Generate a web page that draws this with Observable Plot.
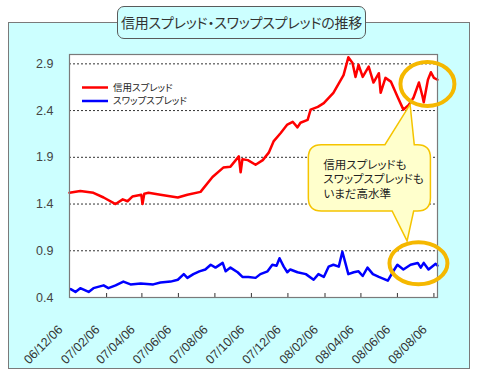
<!DOCTYPE html>
<html>
<head>
<meta charset="utf-8">
<script src="https://cdn.jsdelivr.net/npm/d3@7"></script>
<script src="https://cdn.jsdelivr.net/npm/@observablehq/plot@0.6"></script>
<style>
  html, body { margin: 0; padding: 0; background: #fff; }
  #wrap { position: relative; width: 478px; height: 382px; overflow: hidden;
    font-family: "Noto Sans CJK JP", "Liberation Sans", sans-serif; }
  #panel { position: absolute; left: 8px; top: 22px; width: 460px; height: 345px;
    background: #CCFFFF; border: 1.5px solid #7a7a7a; }
  #title { position: absolute; left: 117px; top: 6px; width: 247px; height: 31px;
    background: #CCFFFF; border: 1.5px solid #5a5a5a; border-radius: 7px;
    font-size: 14px; line-height: 31px; text-align: center; color: #333; white-space: nowrap;
    font-feature-settings: "palt"; letter-spacing: -0.2px; z-index: 3; }
  #chart { position: absolute; left: 0; top: 0; z-index: 2; }
</style>
</head>
<body>
<div id="wrap">
  <div id="panel"></div>
  <div id="title">信用スプレッド・スワップスプレッドの推移</div>
  <div id="chart"></div>
</div>
<script>
// ---- data (dates as yy/mm/dd) ----
const seriesNames = ["信用スプレッド", "スワップスプレッド"];

const creditDates = ["06/12/06","06/12/24","07/01/15","07/02/01","07/02/21","07/03/05","07/03/13","07/03/21","07/04/05","07/04/07","07/04/10","07/04/17","07/05/07","07/06/05","07/06/21","07/07/13","07/08/02","07/08/20","07/09/01","07/09/15","07/09/18","07/09/21","07/09/30","07/10/13","07/10/25","07/11/04","07/11/12","07/11/24","07/12/05","07/12/14","07/12/22","07/12/27","08/01/08","08/01/13","08/01/25","08/02/04","08/02/20","08/03/08","08/03/16","08/03/23","08/03/28","08/04/02","08/04/09","08/04/19","08/04/27","08/05/06","08/05/09","08/05/17","08/05/26","08/06/06","08/06/16","08/06/25","08/07/03","08/07/12","08/07/18","08/07/20","08/07/27","08/08/01","08/08/06","08/08/12"];
const creditValues = [1.52,1.54,1.52,1.47,1.40,1.45,1.43,1.48,1.50,1.40,1.51,1.52,1.50,1.47,1.50,1.53,1.69,1.79,1.80,1.91,1.74,1.88,1.87,1.82,1.87,1.95,2.07,2.16,2.25,2.28,2.22,2.27,2.30,2.41,2.44,2.48,2.59,2.78,2.97,2.91,2.76,2.89,2.76,2.87,2.70,2.80,2.59,2.75,2.71,2.55,2.41,2.46,2.54,2.70,2.55,2.49,2.73,2.81,2.75,2.73];

const swapDates = ["06/12/08","06/12/16","06/12/24","07/01/07","07/01/15","07/02/01","07/02/09","07/02/21","07/03/06","07/03/18","07/04/04","07/04/25","07/05/07","07/05/24","07/06/05","07/06/15","07/06/21","07/07/01","07/07/11","07/07/21","07/07/30","07/08/07","07/08/19","07/08/24","07/09/01","07/09/13","07/09/21","07/10/01","07/10/13","07/10/21","07/11/02","07/11/10","07/11/17","07/11/22","07/11/29","07/12/05","07/12/10","07/12/22","08/01/05","08/01/18","08/01/26","08/02/04","08/02/12","08/02/20","08/02/29","08/03/06","08/03/11","08/03/16","08/03/25","08/04/02","08/04/09","08/04/17","08/04/26","08/05/06","08/05/14","08/05/21","08/05/29","08/06/06","08/06/16","08/06/28","08/07/10","08/07/15","08/07/20","08/07/28","08/08/09","08/08/12"];
const swapValues = [0.49,0.46,0.50,0.46,0.50,0.53,0.50,0.53,0.57,0.54,0.55,0.54,0.56,0.57,0.59,0.65,0.61,0.65,0.68,0.70,0.75,0.72,0.77,0.68,0.72,0.67,0.62,0.62,0.61,0.65,0.68,0.75,0.74,0.82,0.73,0.67,0.70,0.67,0.65,0.59,0.65,0.62,0.73,0.75,0.73,0.89,0.77,0.65,0.67,0.68,0.63,0.72,0.65,0.62,0.60,0.58,0.67,0.75,0.70,0.75,0.77,0.72,0.77,0.70,0.76,0.74];

const xTickLabels = ["06/12/06","07/02/06","07/04/06","07/06/06","07/08/06","07/10/06","07/12/06","08/02/06","08/04/06","08/06/06","08/08/06"];
const yTicks = [0.4, 0.9, 1.4, 1.9, 2.4, 2.9];
const xDomain = ["06/12/06", "08/08/12"];
const yDomain = [0.4, 3.0];
const calloutLines = ["信用スプレッドも", "スワップスプレッドも", "いまだ高水準"];

// annotation anchors in data units
const creditCircle = {date: "08/07/27", value: 2.68};
const swapCircle = {date: "08/07/12", value: 0.76};
const calloutBox = {from: "08/01/10", to: "08/08/01", top: 2.03, bottom: 1.32};
const pointerUp = {date: "08/06/28", value: 2.46, baseFrom: "08/05/17", baseTo: "08/07/05"};
const pointerDown = {date: "08/06/23", value: 1.00, baseFrom: "08/05/29", baseTo: "08/07/04"};

// ---- build ----
const parse = d3.utcParse("%y/%m/%d");
const fmt = d3.utcFormat("%y/%m/%d");
const credit = creditDates.map((d, i) => ({date: parse(d), value: creditValues[i]}));
const swap = swapDates.map((d, i) => ({date: parse(d), value: swapValues[i]}));
const xTicks = xTickLabels.map(parse);

const plot = Plot.plot({
  width: 478, height: 382,
  marginLeft: 69, marginRight: 41, marginTop: 54, marginBottom: 85,
  style: {background: "transparent", fontFamily: "'Liberation Sans', Arial, sans-serif", fontSize: "12px", color: "#333"},
  x: {type: "utc", domain: xDomain.map(parse), label: null},
  y: {domain: yDomain, label: null},
  marks: [
    Plot.frame({fill: "white"}),
    Plot.gridY(yTicks.slice(1), {stroke: "#333", strokeOpacity: 1, strokeDasharray: "2,2", strokeWidth: 1}),
    Plot.axisY({ticks: yTicks, tickSize: 0, tickPadding: 16, tickFormat: d => d.toFixed(1), fill: "#444", fontSize: 12.5, label: null}),
    Plot.tickX(xTicks, {x: d => d, insetTop: 239, stroke: "#333"}),
    Plot.axisX({ticks: xTicks, tickFormat: fmt, tickRotate: -45, tickSize: 0, tickPadding: 30, dx: -9, fill: "#333", fontSize: 12.5, label: null}),
    Plot.line(credit, {x: "date", y: "value", stroke: "#ff0000", strokeWidth: 2.5}),
    Plot.line(swap, {x: "date", y: "value", stroke: "#0000ff", strokeWidth: 2.5}),
    Plot.frame({stroke: "#7a7a7a", strokeWidth: 1.2})
  ]
});
document.getElementById("chart").appendChild(plot);

// ---- annotations via scales ----
const xs = plot.scale("x"), ys = plot.scale("y");
const X = d => xs.apply(parse(d)), Y = v => ys.apply(v);
const svg = d3.select(plot);
const g = svg.append("g").attr("text-anchor", "start");

// legend (inside frame, top-left)
const [fx0] = xs.range, fy0 = ys.range[1];
const leg = g.append("g").attr("font-family", "'Noto Sans CJK JP', sans-serif").attr("font-size", 9.5)
  .style("font-feature-settings", "'palt'");
[["#ff0000", 0], ["#0000ff", 1]].forEach(([c, i]) => {
  const ly = fy0 + 33.5 + i * 13.5;
  leg.append("line").attr("x1", fx0 + 13).attr("x2", fx0 + 39).attr("y1", ly).attr("y2", ly)
    .attr("stroke", c).attr("stroke-width", 2.5);
  leg.append("text").attr("x", fx0 + 44).attr("y", ly).attr("dy", "0.35em").attr("text-anchor", "start")
    .attr("fill", "#222").text(seriesNames[i]);
});

// callout
const bx0 = X(calloutBox.from), bx1 = X(calloutBox.to), by0 = Y(calloutBox.top), by1 = Y(calloutBox.bottom);
const r = 13;
const up = {x: X(pointerUp.date), y: Y(pointerUp.value), a: X(pointerUp.baseFrom), b: X(pointerUp.baseTo)};
const dn = {x: X(pointerDown.date), y: Y(pointerDown.value), a: X(pointerDown.baseFrom), b: X(pointerDown.baseTo)};
const p = d3.path();
p.moveTo(bx0 + r, by0);
p.lineTo(up.a, by0); p.lineTo(up.x, up.y); p.lineTo(up.b, by0);
p.lineTo(bx1 - r, by0); p.quadraticCurveTo(bx1, by0, bx1, by0 + r);
p.lineTo(bx1, by1 - r); p.quadraticCurveTo(bx1, by1, bx1 - r, by1);
p.lineTo(dn.b, by1); p.lineTo(dn.x, dn.y); p.lineTo(dn.a, by1);
p.lineTo(bx0 + r, by1); p.quadraticCurveTo(bx0, by1, bx0, by1 - r);
p.lineTo(bx0, by0 + r); p.quadraticCurveTo(bx0, by0, bx0 + r, by0);
p.closePath();
g.append("path").attr("d", p.toString()).attr("fill", "#FFFFCC").attr("stroke", "#F5C400").attr("stroke-width", 1.5);
const ct = g.append("text").attr("font-family", "'Noto Sans CJK JP', sans-serif").attr("font-size", 11.5)
  .attr("text-anchor", "start").style("font-feature-settings", "'palt'").attr("fill", "#222");
calloutLines.forEach((t, i) => ct.append("tspan").attr("x", bx0 + 15).attr("y", by0 + 24 + i * 14.5).text(t));

// ellipses
[[creditCircle, 27, 22], [swapCircle, 29, 21]].forEach(([c, rx, ry]) => {
  g.append("ellipse").attr("cx", X(c.date)).attr("cy", Y(c.value)).attr("rx", rx).attr("ry", ry)
    .attr("fill", "none").attr("stroke", "#F5B800").attr("stroke-width", 4);
});
</script>
</body>
</html>
